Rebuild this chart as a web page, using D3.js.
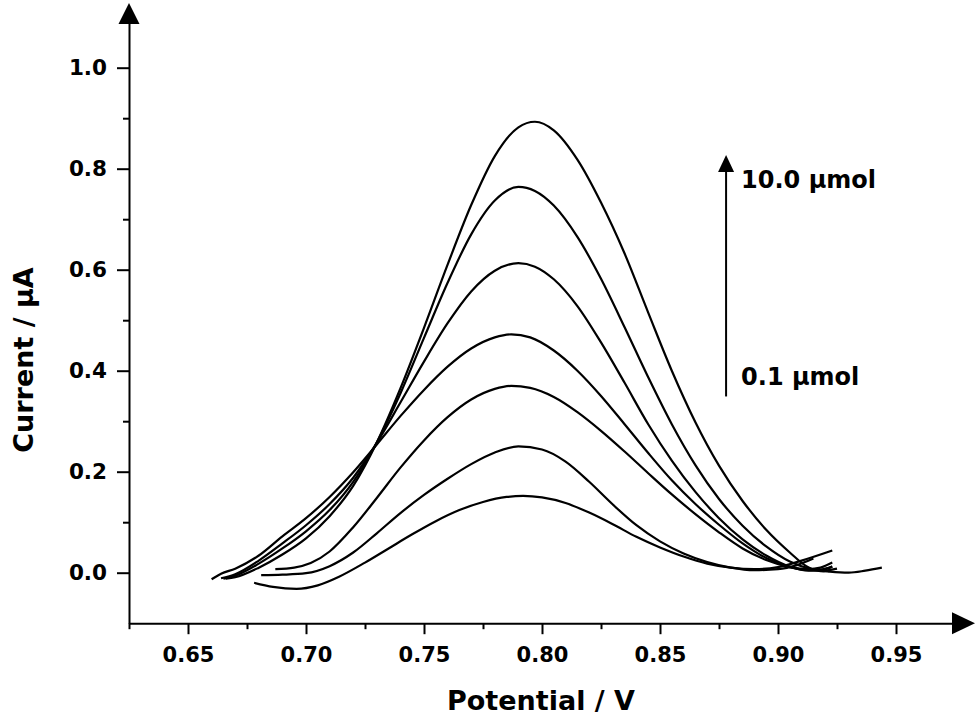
<!DOCTYPE html>
<html>
<head>
<meta charset="utf-8">
<style>
  body { margin: 0; background: #fff; }
  svg { display: block; }
  text { font-family: 'DejaVu Sans', sans-serif; font-weight: bold; fill: #000; }
</style>
</head>
<body>
<div id="chart"></div>
<script src="https://d3js.org/d3.v7.min.js"></script>
<script>
// ticks
const xTicks = [0.65, 0.70, 0.75, 0.80, 0.85, 0.90, 0.95];
const xMinor = [0.625, 0.675, 0.725, 0.775, 0.825, 0.875, 0.925];
const yTicks = [0.0, 0.2, 0.4, 0.6, 0.8, 1.0];
const yMinor = [0.1, 0.3, 0.5, 0.7, 0.9];

// DPV curves, [potential V, current uA], 0.1 umol (c1) up to 10.0 umol (c7)
const c1 = [[0.678,-0.020],[0.686,-0.028],[0.696,-0.032],[0.705,-0.025],[0.714,-0.008],[0.725,0.020],[0.735,0.048],[0.745,0.076],[0.755,0.102],[0.765,0.124],[0.775,0.140],[0.785,0.150],[0.792,0.152],[0.800,0.149],[0.810,0.138],[0.820,0.119],[0.830,0.096],[0.840,0.071],[0.850,0.050],[0.860,0.032],[0.870,0.018],[0.880,0.010],[0.890,0.007],[0.900,0.011],[0.910,0.024],[0.923,0.044]];
const c2 = [[0.681,-0.005],[0.690,-0.004],[0.700,-0.001],[0.710,0.013],[0.720,0.040],[0.730,0.078],[0.740,0.118],[0.750,0.154],[0.760,0.186],[0.770,0.215],[0.780,0.238],[0.790,0.250],[0.800,0.244],[0.810,0.220],[0.820,0.180],[0.830,0.135],[0.840,0.094],[0.850,0.062],[0.860,0.038],[0.870,0.021],[0.880,0.010],[0.890,0.005],[0.900,0.007],[0.908,0.015],[0.915,0.028]];
const c3 = [[0.687,0.007],[0.695,0.010],[0.702,0.019],[0.710,0.042],[0.720,0.090],[0.730,0.148],[0.740,0.208],[0.750,0.262],[0.760,0.308],[0.770,0.343],[0.780,0.364],[0.787,0.370],[0.795,0.366],[0.805,0.348],[0.815,0.318],[0.825,0.281],[0.835,0.240],[0.845,0.197],[0.855,0.155],[0.865,0.116],[0.875,0.080],[0.885,0.048],[0.895,0.025],[0.905,0.011],[0.913,0.007],[0.918,0.010],[0.923,0.020]];
const c4 = [[0.660,-0.013],[0.664,-0.002],[0.670,0.008],[0.680,0.034],[0.690,0.072],[0.700,0.108],[0.710,0.150],[0.720,0.199],[0.730,0.254],[0.740,0.310],[0.750,0.362],[0.760,0.408],[0.770,0.444],[0.780,0.466],[0.787,0.472],[0.795,0.466],[0.805,0.440],[0.815,0.400],[0.825,0.350],[0.835,0.294],[0.845,0.237],[0.855,0.183],[0.865,0.136],[0.875,0.095],[0.885,0.058],[0.895,0.029],[0.905,0.011],[0.913,0.005],[0.918,0.006],[0.923,0.012]];
const c5 = [[0.664,-0.011],[0.670,-0.003],[0.680,0.024],[0.690,0.058],[0.700,0.094],[0.710,0.136],[0.720,0.188],[0.730,0.257],[0.740,0.337],[0.750,0.418],[0.760,0.494],[0.770,0.557],[0.780,0.598],[0.790,0.613],[0.797,0.606],[0.805,0.581],[0.815,0.528],[0.825,0.456],[0.835,0.376],[0.845,0.294],[0.855,0.222],[0.865,0.160],[0.875,0.108],[0.885,0.066],[0.895,0.034],[0.905,0.012],[0.913,0.004],[0.918,0.005],[0.923,0.012]];
const c6 = [[0.665,-0.012],[0.670,-0.006],[0.680,0.018],[0.690,0.048],[0.700,0.082],[0.710,0.124],[0.720,0.180],[0.730,0.258],[0.740,0.355],[0.750,0.465],[0.760,0.574],[0.770,0.670],[0.780,0.737],[0.790,0.764],[0.797,0.756],[0.805,0.727],[0.815,0.665],[0.825,0.582],[0.835,0.486],[0.845,0.387],[0.855,0.294],[0.865,0.213],[0.875,0.146],[0.885,0.093],[0.895,0.052],[0.905,0.022],[0.915,0.006],[0.922,0.002],[0.930,0.000],[0.937,0.004],[0.944,0.010]];
const c7 = [[0.666,-0.012],[0.670,-0.009],[0.680,0.010],[0.690,0.036],[0.700,0.068],[0.710,0.112],[0.720,0.172],[0.730,0.258],[0.740,0.365],[0.750,0.485],[0.760,0.610],[0.770,0.728],[0.780,0.825],[0.790,0.882],[0.797,0.893],[0.805,0.876],[0.815,0.818],[0.825,0.733],[0.835,0.632],[0.845,0.515],[0.855,0.400],[0.865,0.298],[0.875,0.212],[0.885,0.142],[0.895,0.085],[0.905,0.040],[0.912,0.013],[0.918,0.003],[0.925,0.008]];
const curves = [c1, c2, c3, c4, c5, c6, c7];

// concentration arrow: from low label to high label
const arrowPotential = 0.878;
const arrowCurrents = [0.349, 0.827];
const concLabels = ['0.1 μmol', '10.0 μmol'];
const concLabelY = [0.372, 0.762];

const width = 979;
const height = 717;

const x = d3.scaleLinear().domain([0.625, 0.975]).range([129, 955]);
const y = d3.scaleLinear().domain([-0.1, 1.1]).range([623.2, 17.2]);

const svg = d3.select('#chart')
  .append('svg')
  .attr('width', width)
  .attr('height', height)
  .attr('viewBox', [0, 0, width, height]);

// x axis
const xAxis = svg.append('g')
  .attr('transform', `translate(0, ${y(-0.1)})`)
  .call(d3.axisBottom(x).tickValues(xTicks).tickSize(11).tickSizeOuter(0).tickFormat(d3.format('.2f')));
xAxis.selectAll('text')
  .attr('y', 38.5).attr('dy', 0)
  .style('font-size', '21px');

svg.append('g')
  .attr('transform', `translate(0, ${y(-0.1)})`)
  .call(d3.axisBottom(x).tickValues(xMinor).tickSize(6).tickFormat(''))
  .select('.domain').remove();

// y axis
const yAxis = svg.append('g')
  .attr('transform', `translate(${x(0.625)}, 0)`)
  .call(d3.axisLeft(y).tickValues(yTicks).tickSize(12).tickSizeOuter(0).tickFormat(d3.format('.1f')));
yAxis.selectAll('text')
  .attr('x', -22).attr('dy', 0).attr('y', 7)
  .style('font-size', '21.5px');

svg.append('g')
  .attr('transform', `translate(${x(0.625)}, 0)`)
  .call(d3.axisLeft(y).tickValues(yMinor).tickSize(6).tickFormat(''))
  .select('.domain').remove();

svg.selectAll('.domain, .tick line')
  .attr('stroke', '#000')
  .attr('stroke-width', 2);

// axis arrow heads
svg.append('path')
  .attr('d', `M${x(0.625) - 10.5},24 L${x(0.625)},3 L${x(0.625) + 10.5},24 Z`)
  .attr('fill', '#000');
svg.append('path')
  .attr('d', `M952,${y(-0.1) - 11} L975,${y(-0.1)} L952,${y(-0.1) + 11} Z`)
  .attr('fill', '#000');

// axis titles
svg.append('text')
  .attr('x', 541)
  .attr('y', 710)
  .attr('text-anchor', 'middle')
  .style('font-size', '27px')
  .text('Potential / V');

svg.append('text')
  .attr('transform', 'translate(33, 360) rotate(-90)')
  .attr('text-anchor', 'middle')
  .style('font-size', '27px')
  .text('Current / μA');

// curves
const line = d3.line()
  .x(d => x(d[0]))
  .y(d => y(d[1]))
  .curve(d3.curveMonotoneX);

svg.append('g')
  .selectAll('path')
  .data(curves)
  .join('path')
  .attr('d', line)
  .attr('fill', 'none')
  .attr('stroke', '#000')
  .attr('stroke-width', 2.2)
  .attr('stroke-linejoin', 'round');

// concentration arrow
const ax = x(arrowPotential);
svg.append('line')
  .attr('x1', ax).attr('x2', ax)
  .attr('y1', y(arrowCurrents[0]))
  .attr('y2', y(arrowCurrents[1]) + 15)
  .attr('stroke', '#000')
  .attr('stroke-width', 2);
svg.append('path')
  .attr('d', `M${ax - 8},${y(arrowCurrents[1]) + 17} L${ax},${y(arrowCurrents[1])} L${ax + 8},${y(arrowCurrents[1]) + 17} Z`)
  .attr('fill', '#000');

svg.append('g')
  .selectAll('text')
  .data(concLabels)
  .join('text')
  .attr('x', x(arrowPotential) + 15)
  .attr('y', (d, i) => y(concLabelY[i]))
  .style('font-size', '24px')
  .text(d => d);
</script>
</body>
</html>
